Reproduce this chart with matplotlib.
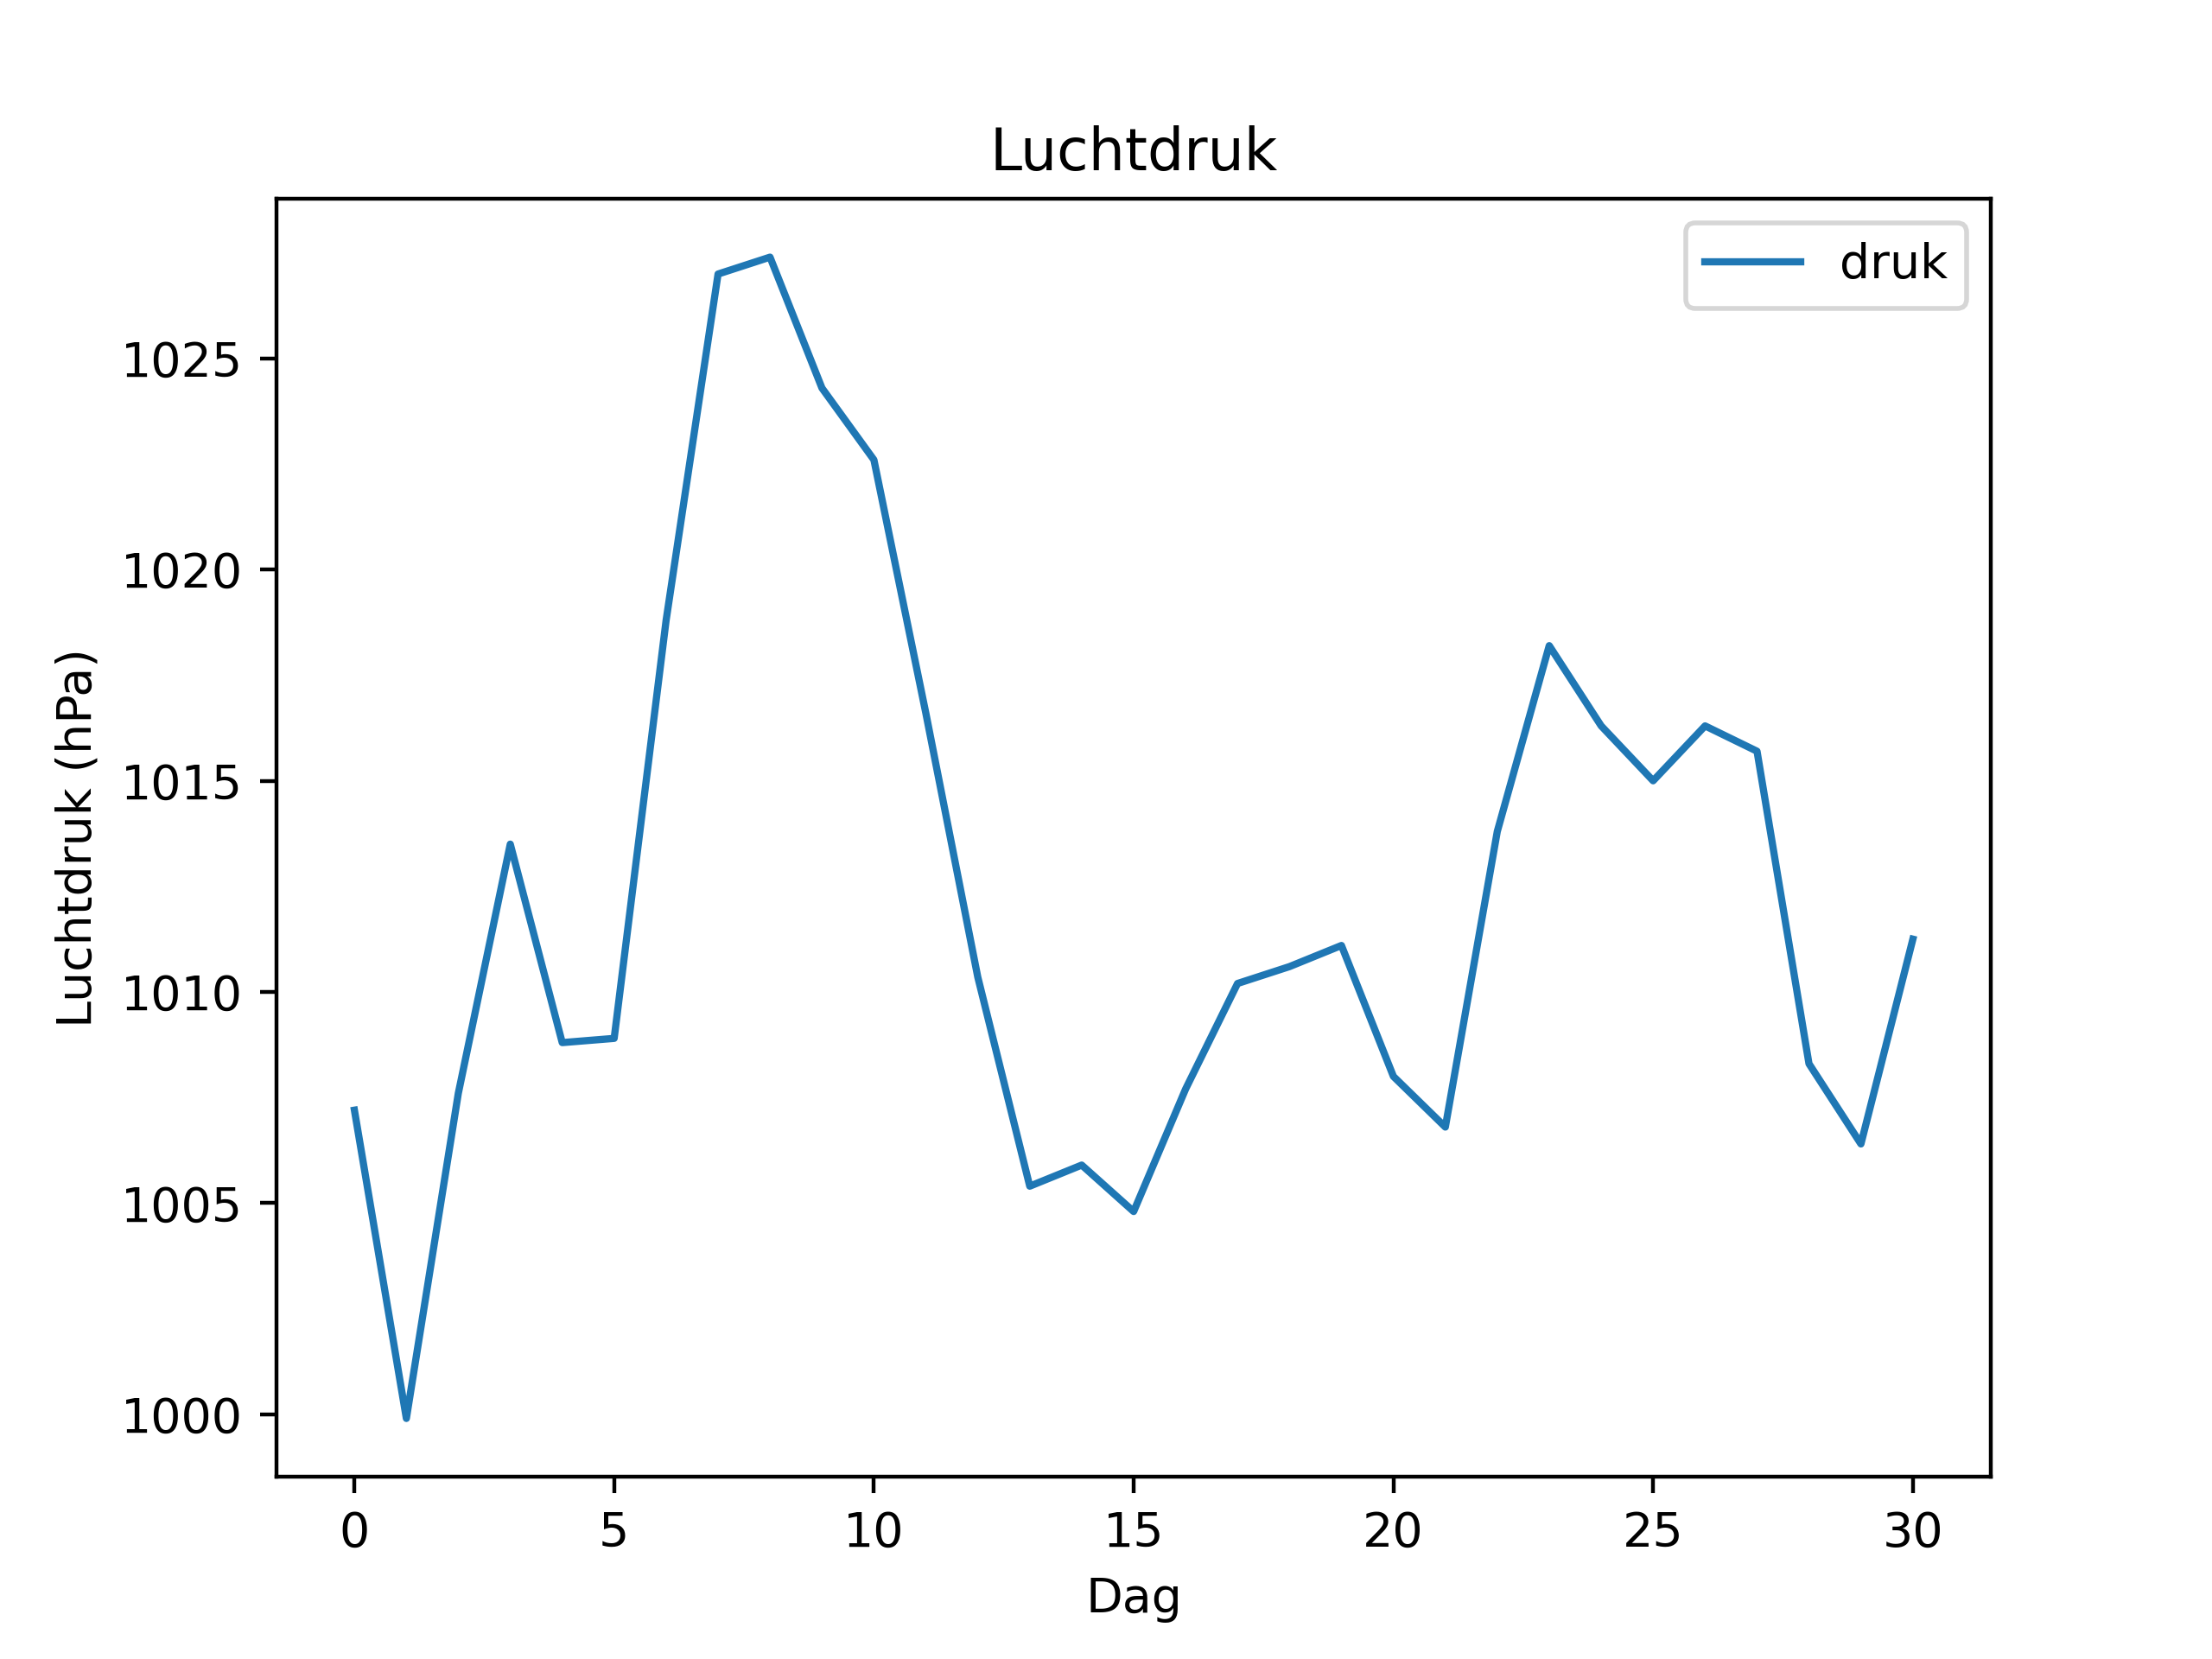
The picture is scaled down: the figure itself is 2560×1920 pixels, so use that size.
import matplotlib
matplotlib.use("Agg")
import matplotlib.pyplot as plt

dagen = list(range(31))
druk = [1007.2, 999.9, 1007.6, 1013.5, 1008.8, 1008.9, 1018.8, 1027.0, 1027.4, 1024.3,
        1022.6, 1016.6, 1010.35, 1005.4, 1005.9, 1004.8, 1007.7, 1010.2, 1010.6, 1011.1,
        1008.0, 1006.8, 1013.8, 1018.2, 1016.3, 1015.0, 1016.3, 1015.7, 1008.3, 1006.4, 1011.25]

fig, ax = plt.subplots(figsize=(6.4, 4.8), dpi=400)
ax.plot(dagen, druk, label="druk")
ax.set_title("Luchtdruk")
ax.set_xlabel("Dag")
ax.set_ylabel("Luchtdruk (hPa)")
ax.legend()
fig.savefig("out.png")
